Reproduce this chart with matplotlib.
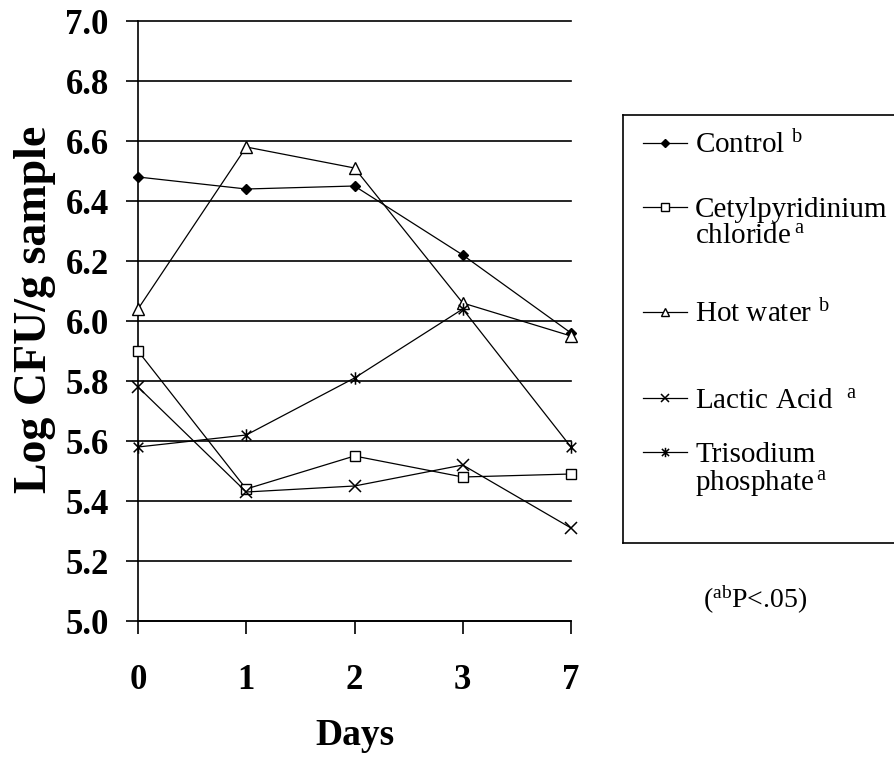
import matplotlib
matplotlib.use("Agg")
import matplotlib.pyplot as plt
import numpy as np
from matplotlib.path import Path

plt.rcParams["font.family"] = ["Liberation Serif", "DejaVu Serif"]
plt.rcParams["mathtext.fontset"] = "custom"
plt.rcParams["mathtext.rm"] = "Liberation Serif"
plt.rcParams["mathtext.it"] = "Liberation Serif:italic"
plt.rcParams["mathtext.bf"] = "Liberation Serif:bold"

DAYS = ["0", "1", "2", "3", "7"]
CONTROL = [6.48, 6.44, 6.45, 6.22, 5.96]
CPC = [5.90, 5.44, 5.55, 5.48, 5.49]
HOT_WATER = [6.04, 6.58, 6.51, 6.06, 5.95]
LACTIC = [5.78, 5.43, 5.45, 5.52, 5.31]
TSP = [5.58, 5.62, 5.81, 6.04, 5.58]
Y_TICKS = [5.0, 5.2, 5.4, 5.6, 5.8, 6.0, 6.2, 6.4, 6.6, 6.8, 7.0]

# Excel-style asterisk: an "x" with a vertical bar through it
asterisk = Path(
    [(-1, -1), (1, 1), (-1, 1), (1, -1), (0, -1.3), (0, 1.3)],
    [Path.MOVETO, Path.LINETO] * 3,
)

series = [
    (CONTROL, dict(marker="D", markersize=5.5, markerfacecolor="black")),
    (CPC, dict(marker="s", markersize=7, markerfacecolor="white")),
    (HOT_WATER, dict(marker="^", markersize=8, markerfacecolor="white")),
    (LACTIC, dict(marker="x", markersize=8, markeredgewidth=1.1)),
    (TSP, dict(marker=asterisk, markersize=9, markeredgewidth=1.1)),
]

W, H = 894, 760
fig = plt.figure(figsize=(W / 100, H / 100), dpi=100)
ax = fig.add_axes([138 / W, 1 - 621 / H, (571 - 138) / W, 600 / H])

x = np.arange(len(DAYS))
for values, style in series:
    ax.plot(x, values, color="black", linewidth=0.9, markeredgecolor="black",
            clip_on=False, zorder=3, **style)

ax.set_xlim(0, len(DAYS) - 1)
ax.set_ylim(5.0, 7.0)
ax.set_yticks(Y_TICKS)
ax.set_yticklabels([f"{v:.1f}" for v in Y_TICKS])
ax.set_xticks(x)
ax.set_xticklabels(DAYS)
ax.yaxis.grid(True, color="black", linewidth=1.2)
ax.set_axisbelow(True)
for gl in ax.get_ygridlines():
    gl.set_clip_on(False)

for side in ["top", "right"]:
    ax.spines[side].set_visible(False)
for side in ["left", "bottom"]:
    ax.spines[side].set_linewidth(1.2)

ax.tick_params(axis="y", direction="out", length=9, width=1.2, pad=12,
               labelsize=25)
ax.tick_params(axis="x", direction="out", length=9, width=1.2, pad=22,
               labelsize=25)
for lbl in ax.get_xticklabels() + ax.get_yticklabels():
    lbl.set_fontweight("bold")

ax.set_xlabel("Days", fontsize=27, fontweight="bold", labelpad=15)
ax.set_ylabel("Log CFU/g sample", fontsize=33, fontweight="bold", labelpad=9)
ax.yaxis.set_label_coords(-0.19, 0.52)

# legend panel, laid out in pixel units inside its own box
box_left, box_top, box_bottom, box_right = 623, 115, 543, 905
lax = fig.add_axes([box_left / W, 1 - box_bottom / H,
                    (box_right - box_left) / W, (box_bottom - box_top) / H])
lax.set_xlim(0, box_right - box_left)
lax.set_ylim(box_bottom - box_top, 0)
lax.set_xticks([])
lax.set_yticks([])
for sp in lax.spines.values():
    sp.set_linewidth(1.2)

entries = [
    ("Control $^{\\mathrm{b}}$", [153]),
    ("Cetylpyridinium\nchloride$\\,^{\\mathrm{a}}$", [217, 243]),
    ("Hot water $^{\\mathrm{b}}$", [322]),
    ("Lactic Acid  $^{\\mathrm{a}}$", [408]),
    ("Trisodium\nphosphate$\\,^{\\mathrm{a}}$", [462, 490]),
]
for (label, baselines), (_, style) in zip(entries, series):
    hy = baselines[0] - box_top - 10
    lax.plot([20, 64], [hy, hy], color="black", linewidth=0.9)
    small = dict(style)
    small["markersize"] = style["markersize"] * 0.75
    lax.plot([42], [hy], color="black", markeredgecolor="black", **small)
    for line, base in zip(label.split("\n"), baselines):
        lax.text(72, base - box_top, line, fontsize=21, va="baseline",
                 ha="left")

fig.text(755 / W, 1 - 600 / H, "($^{\\mathrm{ab}}$P<.05)", fontsize=20,
         ha="center", va="center")

fig.savefig("out.png", dpi=100)
